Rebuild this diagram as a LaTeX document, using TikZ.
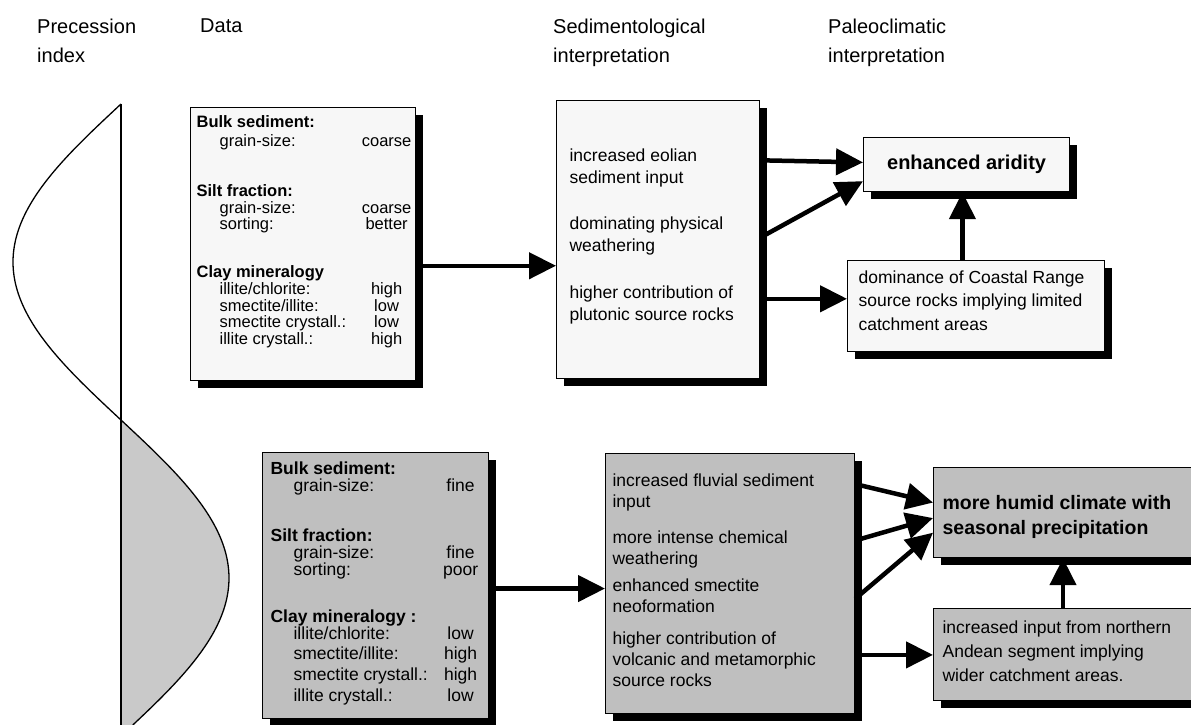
\documentclass[tikz,border=0pt]{standalone}
\usepackage{fontspec}
\setmainfont{Liberation Sans}
\usetikzlibrary{arrows.meta,shadows,calc}

% one label/value line of a data box
\newcommand{\datarow}[2]{\makebox[165pt][l]{\hspace*{23pt}#1}\makebox[50pt]{#2}}

\begin{document}
\begin{tikzpicture}[
    x=1pt, y=-1pt,
    shadowbox/.style={draw=black, line width=1.2pt, inner sep=0pt, anchor=north west,
        drop shadow={shadow xshift=7pt, shadow yshift=-7pt, fill=black, opacity=1}},
    upbox/.style={shadowbox, fill=gray!6},
    lowbox/.style={shadowbox, fill=gray!50},
    flowarrow/.style={line width=4.5pt, -{Triangle[length=27pt, width=26pt]}},
    colhead/.style={anchor=north west, align=left, inner sep=0pt, font=\fontsize{20}{29}\selectfont},
    wave/.style={line width=1.3pt, draw=black},
    lobe/.style={fill=gray!42}
]
\useasboundingbox (0,0) rectangle (1191,725);
\clip (0,0) rectangle (1191,725);

% Column heads
\node[colhead] (hprec) at (37,19) {Precession\\index};
\node[colhead] (hdata) at (200,19) {Data};
\node[colhead] (hsed) at (553,19) {Sedimentological\\interpretation};
\node[colhead] (hpal) at (828,19) {Paleoclimatic\\interpretation};

% Precession index curve
\fill[lobe] (121,420) -- plot[domain=420:725, samples=60] ({121-108*sin(((\x-104)/316)*180)}, \x) -- (121,725) -- cycle;
\draw[wave] plot[domain=104:725, samples=120, smooth] ({121-108*sin(((\x-104)/316)*180)}, \x);
\draw[wave] (121,104) -- (121,725);

% Upper row (arid)
\node[upbox] (data1) at (190,107) {\parbox[c][273pt][t]{225pt}{\fontsize{16.5}{16.5}\selectfont
    \lineskiplimit=-50pt\leftskip=6pt\vspace*{8pt}
    \textbf{Bulk sediment:}\\[2pt]
    \datarow{grain-size:}{coarse}\\[34pt]
    \textbf{Silt fraction:}\\
    \datarow{grain-size:}{coarse}\\
    \datarow{sorting:}{better}\\[31pt]
    \textbf{Clay mineralogy}\\[1pt]
    \datarow{illite/chlorite:}{high}\\
    \datarow{smectite/illite:}{low}\\
    \datarow{smectite crystall.:}{low}\\
    \datarow{illite crystall.:}{high}}};

\node[upbox] (sed1) at (556,100) {\parbox[c][278pt][t]{203pt}{\fontsize{17.5}{22}\selectfont
    \lineskiplimit=-50pt\leftskip=13pt\vspace*{48pt}
    increased eolian\\
    sediment input\\[24pt]
    dominating physical\\
    weathering\\[25pt]
    higher contribution of\\
    plutonic source rocks}};

\node[upbox, minimum width=206pt, minimum height=54pt,
      font=\bfseries\fontsize{20}{24}\selectfont] (arid) at (863,137) {enhanced aridity};

\node[upbox] (coast) at (847,260) {\parbox[c][91pt][t]{257pt}{\fontsize{17.5}{23.5}\selectfont
    \lineskiplimit=-50pt\leftskip=11pt\vspace*{10pt}
    dominance of Coastal Range\\
    source rocks implying limited\\
    catchment areas}};

% Lower row (humid)
\node[lowbox] (data2) at (262,452) {\parbox[c][266pt][t]{226pt}{\fontsize{17.5}{17}\selectfont
    \lineskiplimit=-50pt\leftskip=8pt\vspace*{9pt}
    \textbf{Bulk sediment:}\\
    \datarow{grain-size:}{fine}\\[33pt]
    \textbf{Silt fraction:}\\
    \datarow{grain-size:}{fine}\\
    \datarow{sorting:}{poor}\\[30pt]
    \textbf{Clay mineralogy :}\\
    \datarow{illite/chlorite:}{low}\\[3pt]
    \datarow{smectite/illite:}{high}\\[4pt]
    \datarow{smectite crystall.:}{high}\\[4pt]
    \datarow{illite crystall.:}{low}}};

\node[lowbox] (sed2) at (605,453) {\parbox[c][260pt][t]{249pt}{\fontsize{17.5}{21}\selectfont
    \lineskiplimit=-50pt\leftskip=7pt\vspace*{20pt}
    increased fluvial sediment\\
    input\\[15pt]
    more intense chemical\\
    weathering\\[6pt]
    enhanced smectite\\
    neoformation\\[11pt]
    higher contribution of\\
    volcanic and metamorphic\\
    source rocks}};

\node[lowbox] (humid) at (933,467) {\parbox[c][90pt][t]{267pt}{\bfseries\fontsize{19.5}{25}\selectfont
    \lineskiplimit=-50pt\leftskip=9pt\vspace*{28pt}
    more humid climate with\\
    seasonal precipitation}};

\node[lowbox] (north) at (933,608) {\parbox[c][92pt][t]{267pt}{\fontsize{17.5}{24}\selectfont
    \lineskiplimit=-50pt\leftskip=9pt\vspace*{12pt}
    increased input from northern\\
    Andean segment implying\\
    wider catchment areas.}};

% Arrows, upper row
\coordinate (a1) at ($(data1.north east)!0.579!(data1.south east)$);
\draw[flowarrow] (a1) -- (a1 -| sed1.west);
\draw[flowarrow] ($(sed1.north east)!0.216!(sed1.south east)$) -- ($(arid.north west)!0.46!(arid.south west)$);
\draw[flowarrow] ($(sed1.north east)!0.493!(sed1.south east)$) -- ($(arid.north west)!0.80!(arid.south west)$);
\coordinate (a2) at ($(sed1.north east)!0.712!(sed1.south east)$);
\draw[flowarrow] (a2) -- (a2 -| coast.west);
\coordinate (a3) at ($(coast.north west)!0.447!(coast.north east)$);
\draw[flowarrow] (a3) -- (a3 |- arid.south);

% Arrows, lower row
\coordinate (b1) at ($(data2.north east)!0.511!(data2.south east)$);
\draw[flowarrow] (b1) -- (b1 -| sed2.west);
\draw[flowarrow] ($(sed2.north east)!0.119!(sed2.south east)$) -- ($(humid.north west)!0.39!(humid.south west)$);
\draw[flowarrow] ($(sed2.north east)!0.335!(sed2.south east)$) -- ($(humid.north west)!0.56!(humid.south west)$);
\draw[flowarrow] ($(sed2.north east)!0.558!(sed2.south east)$) -- ($(humid.north west)!0.72!(humid.south west)$);
\coordinate (b2) at ($(sed2.north east)!0.773!(sed2.south east)$);
\draw[flowarrow] (b2) -- (b2 -| north.west);
\coordinate (b3) at ($(north.north west)+(130,0)$);
\draw[flowarrow] (b3) -- (b3 |- humid.south);

\end{tikzpicture}
\end{document}
